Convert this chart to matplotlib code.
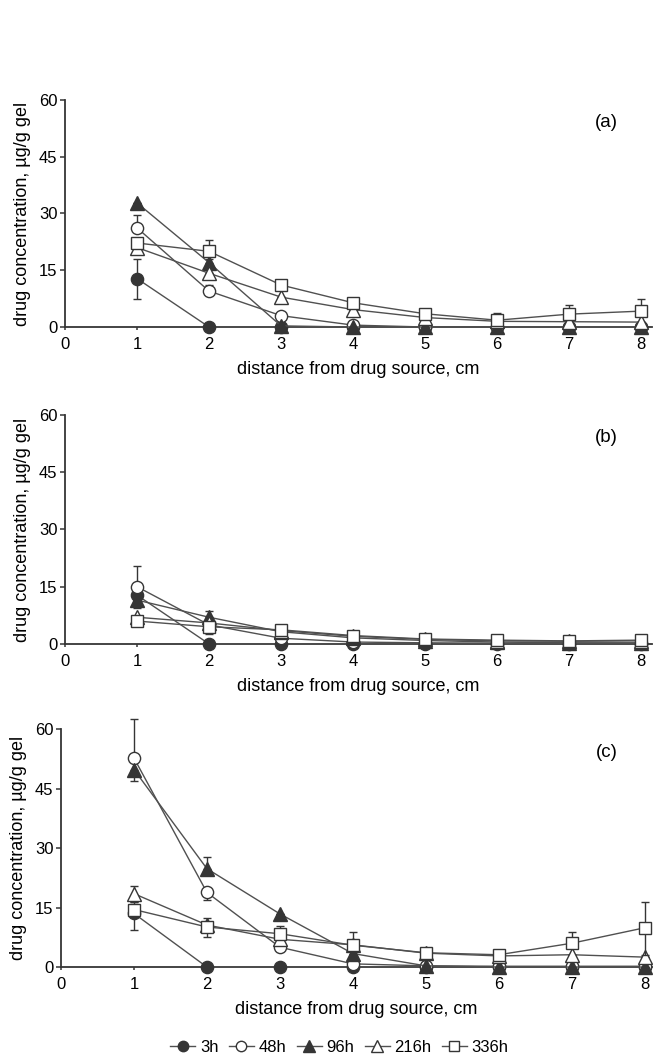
import matplotlib
matplotlib.use("Agg")
import matplotlib.pyplot as plt
from matplotlib.lines import Line2D

plt.rcParams["font.family"] = ["Liberation Sans", "DejaVu Sans"]

DIST = [1, 2, 3, 4, 5, 6, 7, 8]
TIMES = ["3h", "48h", "96h", "216h", "336h"]
PANELS = ["(a)", "(b)", "(c)"]
YTICKS = [0, 15, 30, 45, 60]
XTICKS = [0, 1, 2, 3, 4, 5, 6, 7, 8]

# mean concentration, one row per time point (3h, 48h, 96h, 216h, 336h)
CONC_A = [[12.8, 0, 0, 0, 0, 0, 0, 0],
          [26.2, 9.5, 3.0, 0.5, 0, 0, 0, 0],
          [32.8, 17.0, 0.3, 0, 0, 0, 0, 0],
          [21.0, 14.2, 7.9, 4.6, 2.5, 1.5, 1.4, 1.3],
          [22.2, 20.0, 11.1, 6.4, 3.5, 1.8, 3.4, 4.2]]
ERR_UP_A = [[5.3, 0, 0, 0, 0, 0, 0, 0],
            [3.3, 1.5, 0, 0, 0, 0, 0, 0],
            [0, 1.0, 0, 0, 0, 0, 0, 0],
            [0, 1.0, 0, 0, 0, 0, 0, 0],
            [0, 3.0, 0, 0, 0, 1.9, 2.4, 3.2]]
ERR_DN_A = [[5.4, 0, 0, 0, 0, 0, 0, 0],
            [0, 0, 0, 0, 0, 0, 0, 0],
            [0, 0, 0, 0, 0, 0, 0, 0],
            [0, 0, 0, 0, 0, 0, 0, 0],
            [0, 0, 0, 0, 0, 0, 0, 0]]

CONC_B = [[12.8, 0, 0, 0, 0, 0, 0, 0],
          [15.0, 5.0, 1.5, 0.5, 0.3, 0.2, 0.2, 0.2],
          [11.5, 7.0, 3.2, 1.6, 0.9, 0.5, 0.3, 0.3],
          [7.0, 5.5, 3.5, 2.0, 1.2, 0.8, 0.7, 0.8],
          [6.0, 4.5, 3.7, 2.2, 1.3, 1.0, 0.8, 1.0]]
ERR_UP_B = [[0, 0, 0, 0, 0, 0, 0, 0],
            [5.5, 0, 0, 0, 0, 0, 0, 0],
            [0, 1.7, 0, 0, 0, 0, 0, 0],
            [0, 0, 0, 0, 0, 0, 0, 0],
            [0, 0, 1.0, 0, 0, 0, 0, 0]]
ERR_DN_B = [[0, 0, 0, 0, 0, 0, 0, 0],
            [0, 0, 0, 0, 0, 0, 0, 0],
            [2.0, 0, 0, 0, 0, 0, 0, 0],
            [0, 0, 0, 0, 0, 0, 0, 0],
            [0, 2.0, 0, 0, 0, 0, 0, 0]]

CONC_C = [[13.5, 0, 0, 0, 0, 0, 0, 0],
          [52.7, 18.8, 5.0, 0.8, 0.3, 0.2, 0.2, 0.2],
          [49.8, 24.8, 13.4, 3.4, 0.3, 0, 0, 0],
          [18.5, 10.6, 7.0, 5.6, 3.5, 2.8, 3.1, 2.5],
          [14.5, 10.1, 8.4, 5.5, 3.6, 3.1, 6.0, 9.9]]
ERR_UP_C = [[0, 0, 0, 0, 0, 0, 0, 0],
            [9.8, 0, 0, 0, 0, 0, 0, 0],
            [0, 3.0, 0, 0, 0, 0, 0, 0],
            [2.0, 0, 0, 0, 0, 0, 0, 0],
            [2.0, 2.2, 1.9, 3.3, 0, 0, 2.8, 6.4]]
ERR_DN_C = [[0, 0, 0, 0, 0, 0, 0, 0],
            [0, 1.8, 0, 0, 0, 0, 0, 0],
            [3.0, 0, 0, 0, 0, 0, 0, 0],
            [2.0, 0, 0, 0, 0, 0, 0, 0],
            [5.2, 2.6, 0, 0, 0, 0, 0, 6.9]]

DARK = "#353535"
LINE = "#505050"
MARKERS = [("o", DARK, 8.8), ("o", "white", 8.8), ("^", DARK, 9.5),
           ("^", "white", 9.5), ("s", "white", 9)]

# axes rectangles in figure fraction
RECTS = [[65 / 653, 0.6915, 587 / 653, 0.2142],
         [65 / 653, 0.3925, 587 / 653, 0.2160],
         [61 / 653, 0.0877, 591 / 653, 0.2245]]
XMAX = [8.15, 8.15, 8.1]


def draw_panel(ax, conc, up, dn, label, xmax):
    for i in range(len(TIMES)):
        m, face, ms = MARKERS[i]
        cont = ax.errorbar(DIST, conc[i], yerr=[dn[i], up[i]], fmt=m + "-",
                           color=LINE, mfc=face, mec=DARK, ms=ms, lw=1.0,
                           mew=1.0, ecolor=DARK, elinewidth=1.0, capsize=3,
                           capthick=1.0, zorder=3 + i)
        for a in cont.get_children():
            a.set_clip_on(False)
    ax.set_xlim(0, xmax)
    ax.set_ylim(0, 60)
    ax.set_xticks(XTICKS)
    ax.set_yticks(YTICKS)
    for s in ["top", "right"]:
        ax.spines[s].set_visible(False)
    for s in ["left", "bottom"]:
        ax.spines[s].set_color(DARK)
        ax.spines[s].set_linewidth(1.3)
        ax.spines[s].set_zorder(2)
    ax.tick_params(axis="y", length=3.5, width=1.1, color=DARK, pad=2,
                   labelsize=12)
    ax.tick_params(axis="x", length=2.5, width=1.1, color=DARK, pad=5,
                   labelsize=12)
    ax.set_xlabel("distance from drug source, cm", fontsize=13, labelpad=6)
    ax.set_ylabel("drug concentration, µg/g gel", fontsize=13, labelpad=6)
    ax.text(0.923, 0.9, label, transform=ax.transAxes, fontsize=13.5,
            ha="center", va="center")


fig = plt.figure(figsize=(6.53, 10.6), dpi=100)
data = [(CONC_A, ERR_UP_A, ERR_DN_A), (CONC_B, ERR_UP_B, ERR_DN_B),
        (CONC_C, ERR_UP_C, ERR_DN_C)]
for rect, (c, u, d), lab, xm in zip(RECTS, data, PANELS, XMAX):
    ax = fig.add_axes(rect)
    draw_panel(ax, c, u, d, lab, xm)

handles = [Line2D([], [], color=LINE, lw=1.0, marker=m, mfc=face, mec=DARK,
                  ms=ms * 0.85, mew=1.0) for m, face, ms in MARKERS]
fig.legend(handles, TIMES, loc="center", bbox_to_anchor=(0.52, 1 - 1047 / 1060),
           ncol=5, frameon=False, fontsize=12, handlelength=1.5,
           handletextpad=0.3, columnspacing=0.6)

fig.savefig("out.png", dpi=100)
